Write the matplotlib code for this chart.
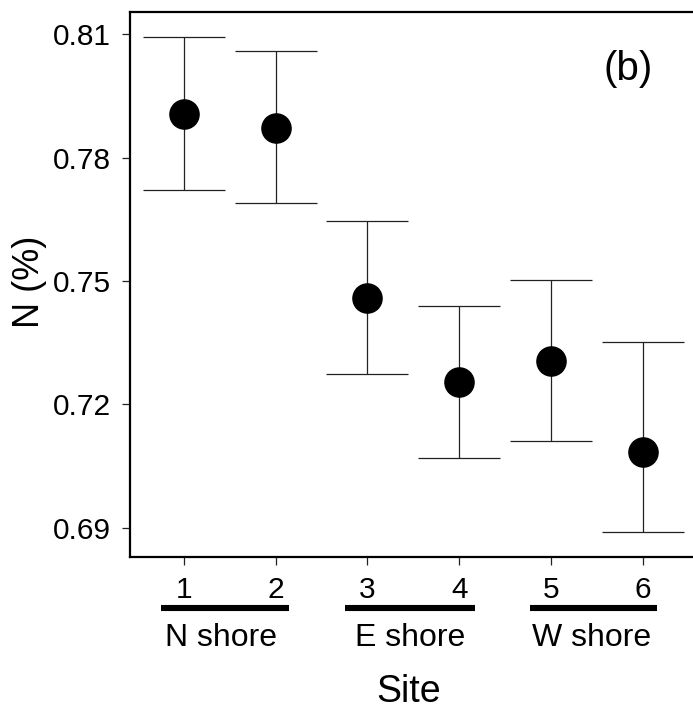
import numpy as np
import matplotlib.pyplot as plt
from matplotlib import transforms

plt.rcParams['font.family'] = ['Liberation Sans', 'DejaVu Sans']

# site means and error bar limits
sites = [1, 2, 3, 4, 5, 6]
means = [0.7907, 0.7873, 0.7459, 0.7255, 0.7306, 0.7085]
upper = [0.8093, 0.8059, 0.7646, 0.7439, 0.7502, 0.7351]
lower = [0.7722, 0.7689, 0.7275, 0.7069, 0.7110, 0.6890]

yticks = [0.69, 0.72, 0.75, 0.78, 0.81]
ytick_labels = ["0.69", "0.72", "0.75", "0.78", "0.81"]

# shore groups: label, bar start, bar end, label centre (in site units)
groups = ["N shore", "E shore", "W shore"]
group_start = [0.75, 2.76, 4.77]
group_end = [2.14, 4.17, 6.16]
group_mid = [1.40, 3.46, 5.44]

fig = plt.figure(figsize=(6.93, 7.14), dpi=100)
ax = fig.add_axes([0.1876, 0.2199, 0.8124, 0.7633])

means = np.array(means)
yerr = np.vstack([means - np.array(lower), np.array(upper) - means])
ax.errorbar(sites, means, yerr=yerr, fmt='o', color='black', ecolor='#222222',
            elinewidth=0.9, capsize=29.5, capthick=0.9, markersize=21)

ax.set_xlim(0.41, 6.55)
ax.set_ylim(0.6829, 0.8154)
ax.set_yticks(yticks)
ax.set_yticklabels(ytick_labels)
ax.set_xticks(sites)
ax.tick_params(axis='both', labelsize=21.5, length=6, width=0.9, pad=8, color='#222222')

for side in ['left', 'bottom', 'top']:
    ax.spines[side].set_linewidth(1.6)
ax.spines['right'].set_visible(False)

# group bars and labels beneath the ticks
trans = transforms.blended_transform_factory(ax.transData, ax.transAxes)
for name, x0, x1, xm in zip(groups, group_start, group_end, group_mid):
    ax.plot([x0, x1], [-0.0936, -0.0936], color='black', lw=4.4,
            solid_capstyle='butt', transform=trans, clip_on=False)
    ax.text(xm, -0.149, name, transform=trans, ha='center', va='center', fontsize=23)

ax.text(0.495, -0.248, "Site", transform=ax.transAxes, ha='center', va='center', fontsize=27)
ax.text(-0.178, 0.505, "N (%)", transform=ax.transAxes, ha='center', va='center',
        rotation=90, fontsize=26)
ax.text(0.885, 0.895, "(b)", transform=ax.transAxes, ha='center', va='center', fontsize=29)

fig.savefig("out.png", dpi=100)
